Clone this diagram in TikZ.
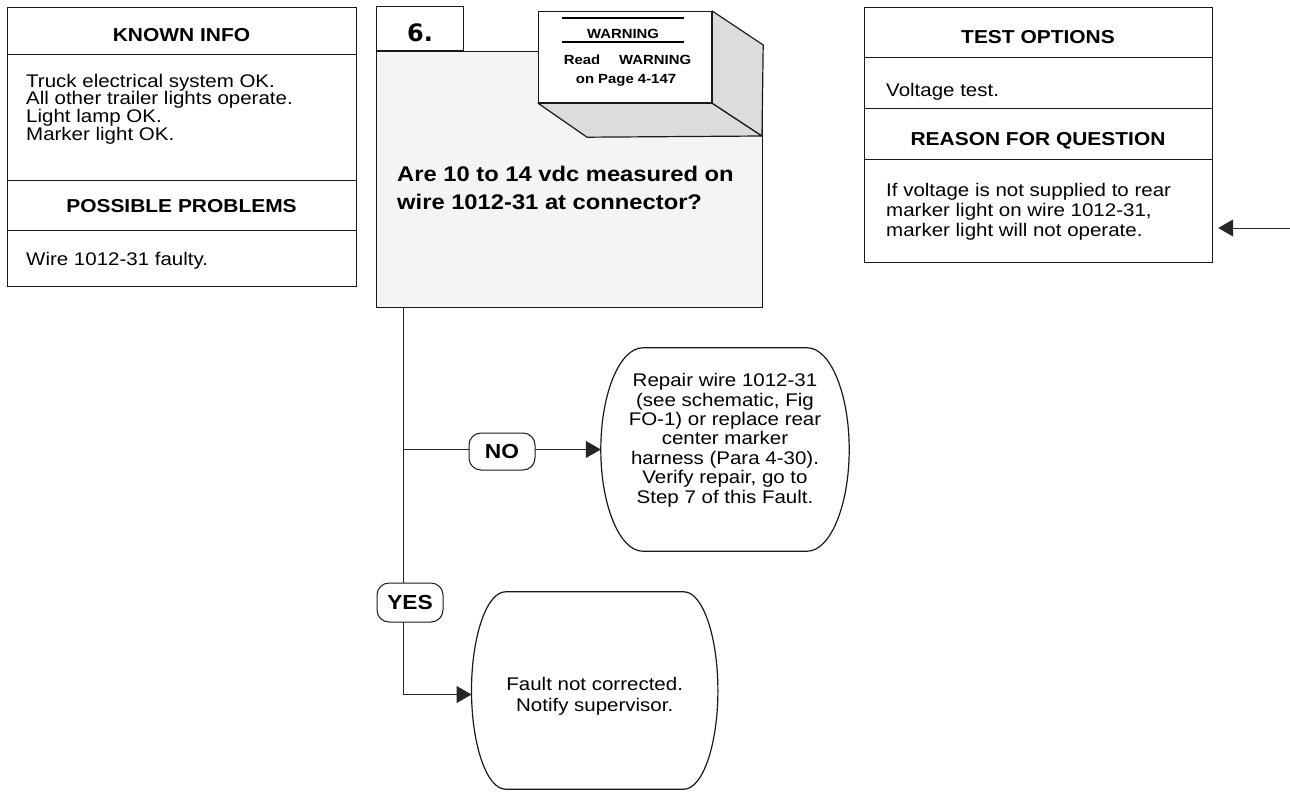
\documentclass[tikz,border=0pt]{standalone}
\usepackage{fontspec}
\setmainfont{Liberation Sans}[FakeStretch=1.12]
\newfontfamily\numfont{DejaVu Sans}
\usetikzlibrary{arrows.meta,calc}
\definecolor{boxgray}{HTML}{F4F4F4}
\definecolor{shadegray}{HTML}{DCDCDC}
\newcommand\ovalaround[2]{%
  \draw[boxline, fill=white] ([xshift=#2]#1.north west) -- ([xshift=-#2]#1.north east)
    .. controls ([xshift=-0.45*#2]#1.north east) and ($(#1.east)!0.55!(#1.north east)$) .. (#1.east)
    .. controls ($(#1.east)!0.55!(#1.south east)$) and ([xshift=-0.45*#2]#1.south east) .. ([xshift=-#2]#1.south east)
    -- ([xshift=#2]#1.south west)
    .. controls ([xshift=0.45*#2]#1.south west) and ($(#1.west)!0.55!(#1.south west)$) .. (#1.west)
    .. controls ($(#1.west)!0.55!(#1.north west)$) and ([xshift=0.45*#2]#1.north west) .. cycle;}
\newcommand\clines[2]{\vtop{\baselineskip=#1\lineskiplimit=-30pt\halign{\hfil##\hfil\cr #2}}}
\begin{document}
\begin{tikzpicture}[x=1pt,y=-1pt,
  boxline/.style={draw=black!90, line width=1.2pt},
  conn/.style={draw=black!85, line width=1pt},
  arrowed/.style={-{Triangle[length=15pt,width=17pt]}},
  secbox/.style={boxline, anchor=north west, inner sep=0pt},
  hdr/.style={font=\bfseries\fontsize{18.7}{20}\selectfont, inner sep=0pt, anchor=base},
  body/.style={font=\fontsize{18.3}{18}\selectfont, inner sep=0pt, anchor=base west},
  ctext/.style={font=\fontsize{18.3}{18}\selectfont, inner sep=0pt, anchor=base},
  warnfont/.style={font=\bfseries\fontsize{13.3}{14}\selectfont, inner sep=0pt, anchor=base},
  lbl/.style={draw=black!90, line width=1pt, fill=white, rounded corners=12pt, inner sep=0pt,
              font=\bfseries\fontsize{20.3}{21}\selectfont}]
\useasboundingbox (0,0) rectangle (1290,792);

% ---------- left box ----------
\node[secbox, minimum width=349pt, minimum height=47pt]  (knownhd)   at (7,7)   {};
\node[secbox, minimum width=349pt, minimum height=126pt] (knownbody) at (7,54)  {};
\node[secbox, minimum width=349pt, minimum height=50pt]  (probhd)    at (7,180) {};
\node[secbox, minimum width=349pt, minimum height=56pt]  (probbody)  at (7,230) {};
\node[hdr] (knownlbl) at (181.5,41.5) {KNOWN INFO};
\node[body] (knowntxt) at (26,87) {\vtop{\baselineskip=17.7pt\lineskiplimit=-30pt
  \hbox{Truck electrical system OK.}\hbox{All other trailer lights operate.}%
  \hbox{Light lamp OK.}\hbox{Marker light OK.}}};
\node[hdr] (problbl) at (181.5,212.3) {POSSIBLE PROBLEMS};
\node[body] (probtxt) at (26,265) {Wire 1012-31 faulty.};

% ---------- right box ----------
\node[secbox, minimum width=348pt, minimum height=50pt]  (testhd)     at (864,7)   {};
\node[secbox, minimum width=348pt, minimum height=51pt]  (testbody)   at (864,57)  {};
\node[secbox, minimum width=348pt, minimum height=51pt]  (reasonhd)   at (864,108) {};
\node[secbox, minimum width=348pt, minimum height=103pt] (reasonbody) at (864,159) {};
\node[hdr] (testlbl) at (1038,43.3) {TEST OPTIONS};
\node[body] (testtxt) at (886,96.7) {Voltage test.};
\node[hdr] (reasonlbl) at (1038,145.7) {REASON FOR QUESTION};
\node[body] (reasontxt) at (886,196.5) {\vtop{\baselineskip=20.2pt\lineskiplimit=-30pt
  \hbox{If voltage is not supplied to rear}\hbox{marker light on wire 1012-31,}%
  \hbox{marker light will not operate.}}};
\coordinate (feed) at (1290,228);
\draw[conn, arrowed, shorten >=5pt] (feed) -- (feed -| reasonbody.east);

% ---------- step box ----------
\node[secbox, fill=boxgray, minimum width=386pt, minimum height=256pt] (step) at (376,51) {};
\node[boxline, fill=white, anchor=north west, inner sep=0pt, minimum width=173pt, minimum height=91pt] (warn) at (538,11) {};
\draw[boxline, fill=shadegray, line join=round] (warn.south west) -- ++(49,34) -- (762,136) -- (warn.south east) -- cycle;
\draw[boxline, fill=shadegray, line join=round] (warn.north east) -- ++(51,34) -- (762,136) -- (warn.south east) -- cycle;
\node[boxline, fill=white, anchor=north west, inner sep=0pt, minimum width=173pt, minimum height=91pt] (warnface) at (538,11) {};
\node[boxline, fill=white, anchor=south west, inner sep=0pt, minimum width=87pt, minimum height=44pt] (tab) at (376,51) {};
\node[font=\numfont\bfseries\fontsize{24}{24}\selectfont, inner sep=0pt, anchor=base] (stepno) at (tab.center |- 0,41.7) {6.};
\draw[draw=black, line width=1.6pt] (562,18) -- (684,18);
\draw[draw=black, line width=1.6pt] (562,42) -- (684,42);
\node[warnfont] (warnttl) at (623,38.3) {WARNING};
\node[warnfont] (warnread) at (627.5,64.3) {Read\hspace{1.1em} WARNING};
\node[warnfont] (warnpage) at (626,83.3) {on Page 4-147};
\node[font=\bfseries\fontsize{21.2}{22}\selectfont, inner sep=0pt, anchor=base west] (question) at (397,181.7)
  {\vtop{\baselineskip=27.3pt\lineskiplimit=-30pt
  \hbox{Are 10 to 14 vdc measured on}\hbox{wire 1012-31 at connector?}}};

% ---------- outcome ovals ----------
\node[minimum width=248pt, minimum height=203pt, inner sep=0pt] (repair) at (725,449.5) {};
\ovalaround{repair}{42pt}
\node[ctext] (repairtxt) at (725,386.7) {\clines{19.4pt}{Repair wire 1012-31\cr (see schematic, Fig\cr
  FO-1) or replace rear\cr center marker\cr harness (Para 4-30).\cr Verify repair, go to\cr Step 7 of this Fault.\cr}};

\node[minimum width=246pt, minimum height=197pt, inner sep=0pt] (fault) at (594.7,690.5) {};
\ovalaround{fault}{34pt}
\node[ctext] (faulttxt) at (594.7,690) {\clines{21.7pt}{Fault not corrected.\cr Notify supervisor.\cr}};

% ---------- connectors ----------
\coordinate (trunk) at ([xshift=27pt]step.south west);
\draw[conn, arrowed] (trunk) |- ([yshift=-4pt]fault.west);
\draw[conn, arrowed] (trunk |- repair.west) -- (repair.west);
\node[lbl, minimum width=66pt, minimum height=37pt] (no) at (502,451.5) {NO};
\node[lbl, minimum width=66pt, minimum height=39pt] (yes) at (410,602.5) {YES};
\end{tikzpicture}
\end{document}
